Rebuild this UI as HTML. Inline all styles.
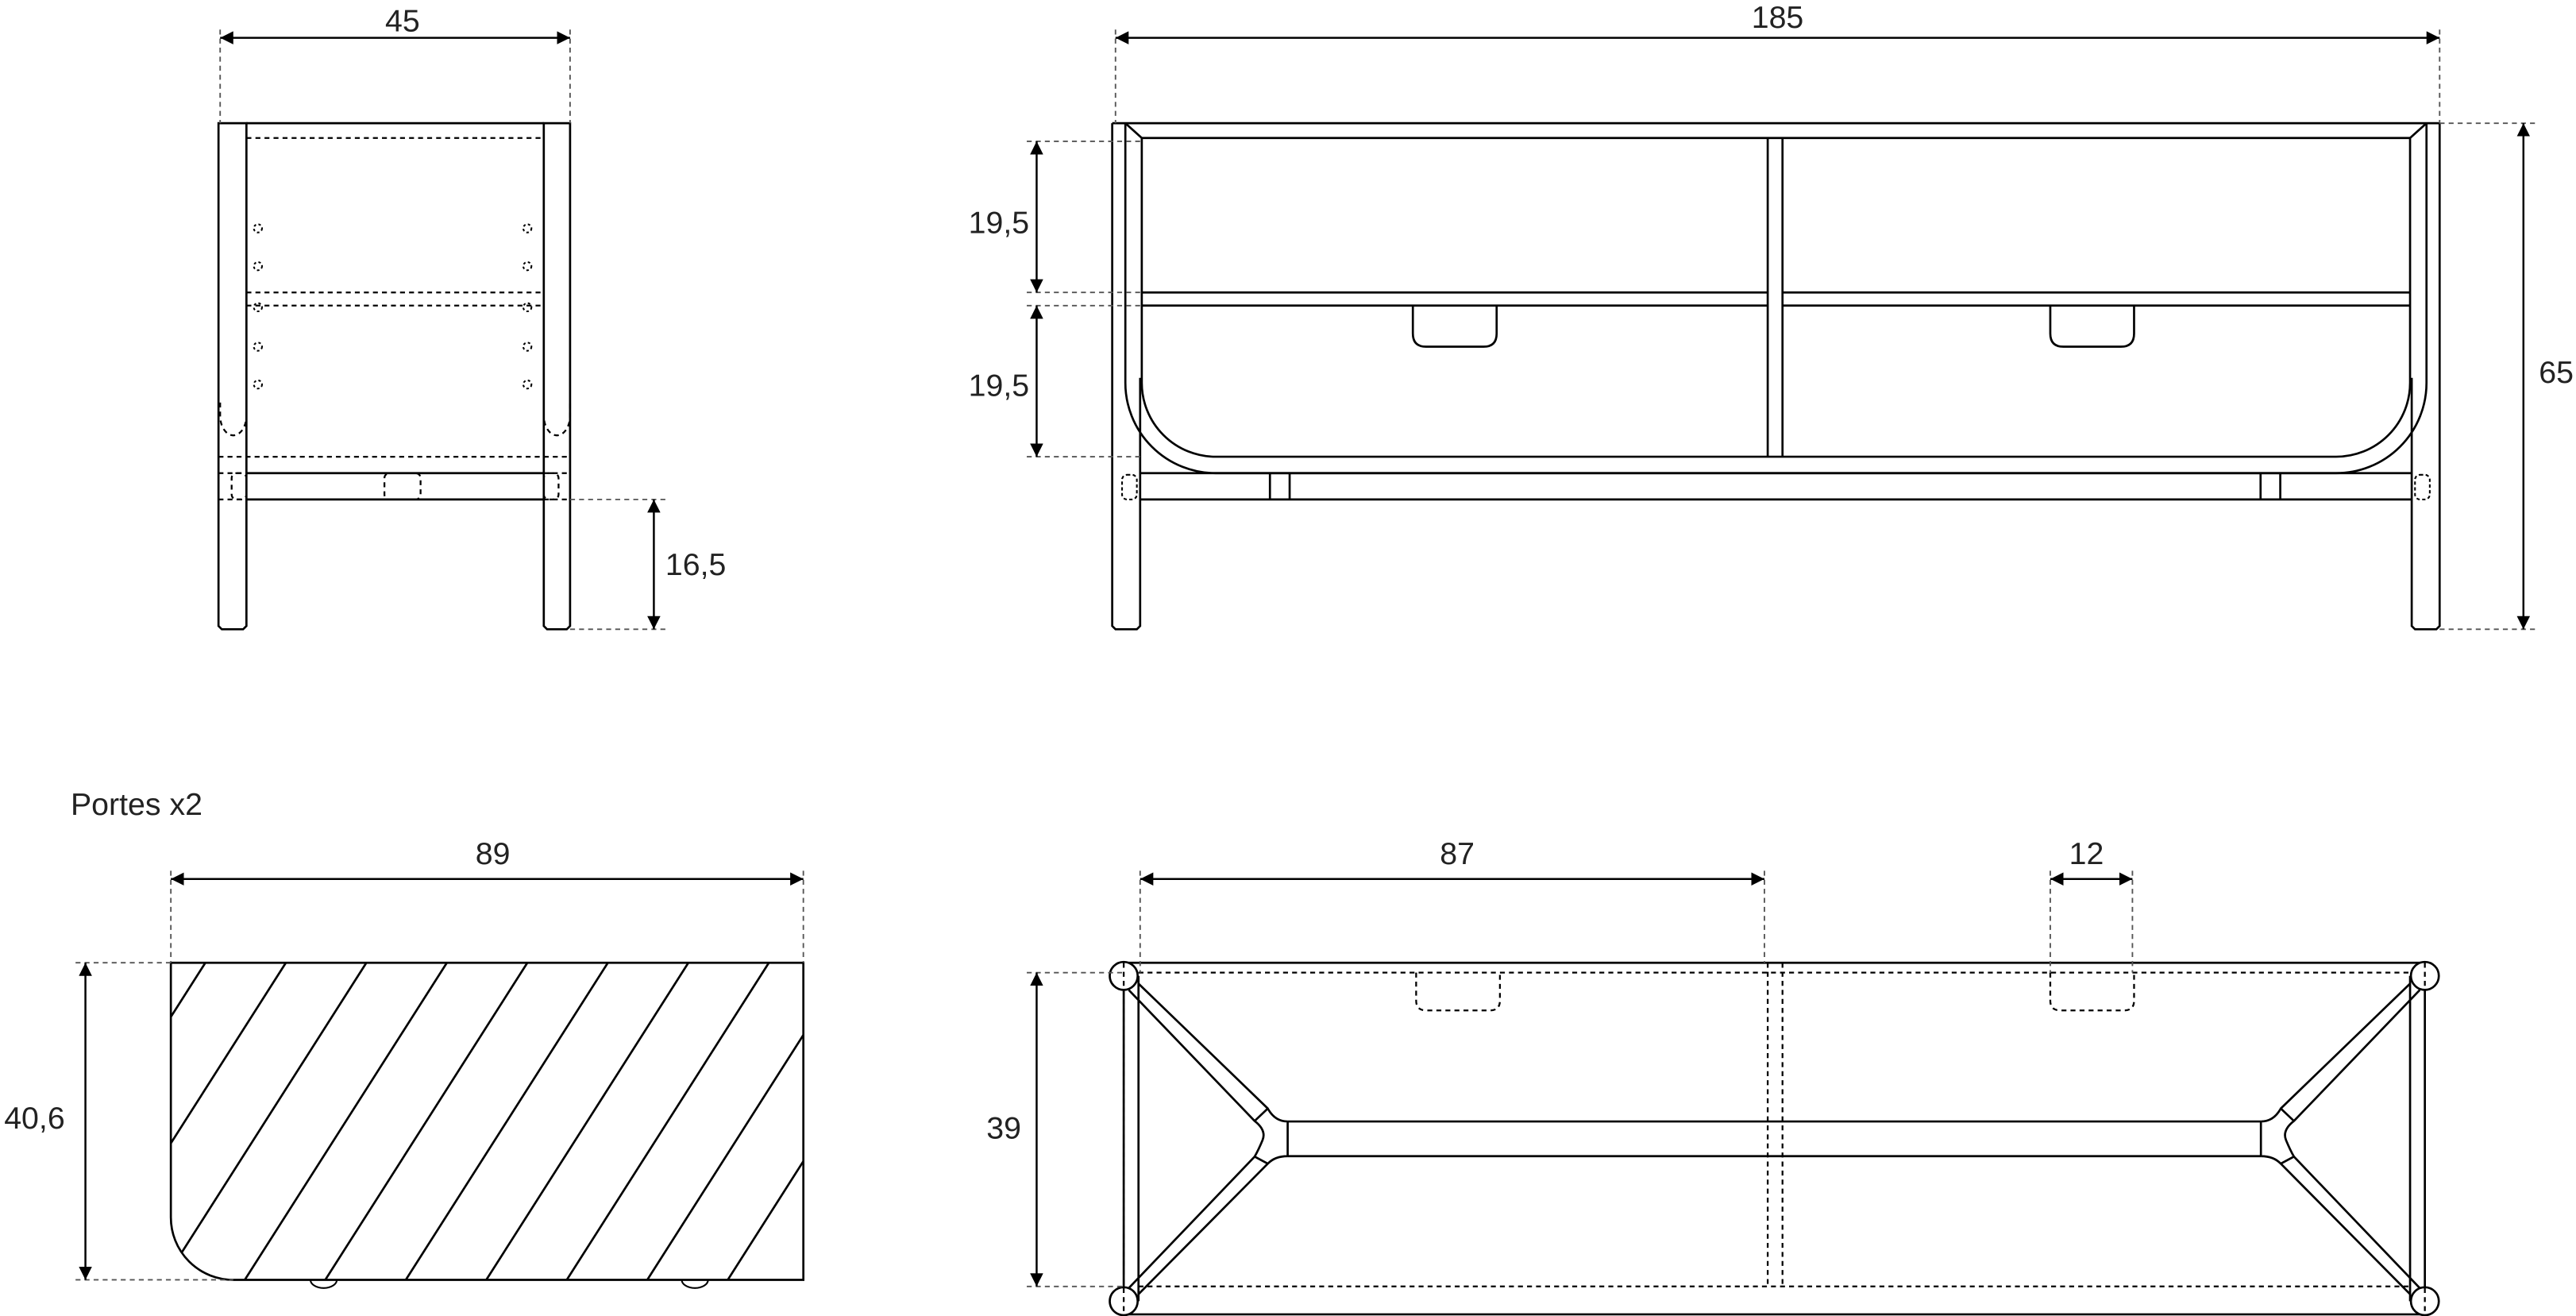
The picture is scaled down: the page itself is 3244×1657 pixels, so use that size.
<!DOCTYPE html>
<html><head><meta charset="utf-8"><style>
html,body{margin:0;padding:0;background:#fff;}
svg{display:block;}
text{font-family:"Liberation Sans",sans-serif;font-size:19px;fill:#222;}
</style></head><body>
<svg width="3244" height="1657" viewBox="0 0 1568 801" preserveAspectRatio="none" xmlns="http://www.w3.org/2000/svg">
<defs>
<marker id="a" viewBox="0 0 10 10" refX="10" refY="5" markerWidth="8" markerHeight="8" markerUnits="userSpaceOnUse" orient="auto-start-reverse"><path d="M0,0 L10,5 L0,10 z" fill="#000"/></marker>
<clipPath id="door"><path d="M104,586 H489 V779 H142 A38,38 0 0 1 104,741 Z"/></clipPath>
</defs>
<g fill="none" stroke="#000" stroke-width="1.3">
<!-- ===== SIDE VIEW ===== -->
<path d="M133,75 V381 l2,2 h13 l2,-2 V75 Z"/>
<path d="M331,75 V381 l2,2 h12 l2,-2 V75 Z"/>
<path d="M150,75 H331"/>
<path d="M150,288 H331 M150,304 H331"/>
<g stroke-dasharray="3,2.5" stroke-width="1.1">
<path d="M150,84 H331 M150,178 H331 M150,186 H331 M133,278 H347 M133,288 H150 M331,288 H347 M133,304 H150 M331,304 H347"/>
<path d="M134,245 v8 a8,12 0 0 0 16,0 v-8 M331,245 v8 a8,12 0 0 0 16,0 v-8"/>
<rect x="141" y="288" width="9" height="16" rx="3"/>
<rect x="331" y="288" width="9" height="16" rx="3"/>
<rect x="234" y="288" width="22" height="16" rx="3"/>
<g stroke-dasharray="1.5,1.5" stroke-width="1">
<circle cx="157" cy="139" r="2.5"/><circle cx="157" cy="162" r="2.5"/><circle cx="157" cy="187" r="2.5"/><circle cx="157" cy="211" r="2.5"/><circle cx="157" cy="234" r="2.5"/>
<circle cx="321" cy="139" r="2.5"/><circle cx="321" cy="162" r="2.5"/><circle cx="321" cy="187" r="2.5"/><circle cx="321" cy="211" r="2.5"/><circle cx="321" cy="234" r="2.5"/>
</g>
</g>
<g stroke="#555" stroke-dasharray="3,2.5" stroke-width="0.9">
<path d="M134,18 V75 M347,18 V75 M347,304 H405 M347,383 H405"/>
</g>
<path d="M134,23 H347" stroke-width="1.2" marker-start="url(#a)" marker-end="url(#a)"/>
<path d="M398,304 V383" stroke-width="1.2" marker-start="url(#a)" marker-end="url(#a)"/>

<!-- ===== FRONT VIEW ===== -->
<path d="M677,75 V381 l2,2 h13 l2,-2 V230"/>
<path d="M1485,75 V381 l-2,2 h-13 l-2,-2 V230"/>
<path d="M677,75 H1485"/>
<path d="M685,75 V233 A55,55 0 0 0 740,288 H1422 A55,55 0 0 0 1477,233 V75"/>
<path d="M685,75 L695,84 V233 A45,45 0 0 0 740,278 H1422 A45,45 0 0 0 1467,233 V84 L1477,75"/>
<path d="M695,84 H1467"/>
<path d="M695,178 H1076 M695,186 H1076 M1085,178 H1467 M1085,186 H1467"/>
<path d="M1076,84 V278 M1085,84 V278"/>
<path d="M694,288 H1468 M694,304 H1468"/>
<path d="M773,288 V304 M785,288 V304 M1376,288 V304 M1388,288 V304"/>
<path d="M860,186 v17 q0,8 8,8 h35 q8,0 8,-8 v-17"/>
<path d="M1248,186 v17 q0,8 8,8 h35 q8,0 8,-8 v-17"/>
<g stroke-dasharray="2,1.5" stroke-width="1">
<rect x="683" y="289" width="9" height="15" rx="3"/>
<rect x="1470" y="289" width="9" height="15" rx="3"/>
</g>
<g stroke="#555" stroke-dasharray="3,2.5" stroke-width="0.9">
<path d="M679,18 V75 M1485,18 V75"/>
<path d="M625,86 H695 M625,178 H695 M625,186 H695 M625,278 H695"/>
<path d="M1485,75 H1545 M1485,383 H1545"/>
</g>
<path d="M679,23 H1485" stroke-width="1.2" marker-start="url(#a)" marker-end="url(#a)"/>
<path d="M631,86 V178" stroke-width="1.2" marker-start="url(#a)" marker-end="url(#a)"/>
<path d="M631,186 V278" stroke-width="1.2" marker-start="url(#a)" marker-end="url(#a)"/>
<path d="M1536,75 V383" stroke-width="1.2" marker-start="url(#a)" marker-end="url(#a)"/>

<!-- ===== DOOR ===== -->
<path d="M104,586 H489 V779 H142 A38,38 0 0 1 104,741 Z"/>
<g clip-path="url(#door)">
<path d="M125,586 L2,779 M174,586 L51,779 M223,586 L100,779 M272,586 L149,779 M321,586 L198,779 M370,586 L247,779 M419,586 L296,779 M468,586 L345,779 M517,586 L394,779 M566,586 L443,779"/>
</g>
<path d="M189,779 a8,5 0 0 0 16,0 M415,779 a8,5 0 0 0 16,0" stroke-width="1"/>
<g stroke="#555" stroke-dasharray="3,2.5" stroke-width="0.9">
<path d="M104,530 V586 M489,530 V586 M46,586 H104 M46,779 H142"/>
</g>
<path d="M104,535 H489" stroke-width="1.2" marker-start="url(#a)" marker-end="url(#a)"/>
<path d="M52,586 V779" stroke-width="1.2" marker-start="url(#a)" marker-end="url(#a)"/>

<!-- ===== TOP VIEW ===== -->
<path d="M684,586 H1476 M684,800 H1476"/>
<path d="M684,594 V792 M693,594 V792 M1467,594 V792 M1476,594 V792"/>
<circle cx="684" cy="594" r="8.5" fill="#fff"/>
<circle cx="1476" cy="594" r="8.5" fill="#fff"/>
<circle cx="684" cy="792" r="8.5" fill="#fff"/>
<circle cx="1476" cy="792" r="8.5" fill="#fff"/>
<g stroke-dasharray="3,2.5" stroke-width="1.1">
<path d="M693,592 H1467 M693,783 H1467"/>
<path d="M1076,586 V783 M1085,586 V783"/>
<path d="M684,586 V800 M1476,586 V800"/>
<path d="M862,592 v17 q0,6 6,6 h39 q6,0 6,-6 v-17"/>
<path d="M1248,592 v17 q0,6 6,6 h39 q6,0 6,-6 v-17"/>
</g>
<!-- left Y brace -->
<path d="M692.8,598.5 L771.7,674.7 Q776,682.6 783.8,682.6 M687.1,602.6 L763.7,682.3 Q771,688 768.5,694 Q766,700 763.7,704 L687.1,784 M771.7,708.3 Q776,703.7 783.8,703.7 M692.8,787.9 L771.7,708.3 M763.7,682.3 L771.7,674.7 M763.7,704 L771.7,708.3 M783.8,682.6 V703.7"/>
<!-- right Y brace (mirror about 1080) -->
<g transform="translate(2160,0) scale(-1,1)">
<path d="M692.8,598.5 L771.7,674.7 Q776,682.6 783.8,682.6 M687.1,602.6 L763.7,682.3 Q771,688 768.5,694 Q766,700 763.7,704 L687.1,784 M771.7,708.3 Q776,703.7 783.8,703.7 M692.8,787.9 L771.7,708.3 M763.7,682.3 L771.7,674.7 M763.7,704 L771.7,708.3 M783.8,682.6 V703.7"/>
</g>
<path d="M783.8,682.6 H1376.2 M783.8,703.7 H1376.2"/>
<g stroke="#555" stroke-dasharray="3,2.5" stroke-width="0.9">
<path d="M694,530 V592 M1074,530 V586 M1248,530 V592 M1298,530 V592"/>
<path d="M625,592 H684 M625,783 H684"/>
</g>
<path d="M694,535 H1074" stroke-width="1.2" marker-start="url(#a)" marker-end="url(#a)"/>
<path d="M1248,535 H1298" stroke-width="1.2" marker-start="url(#a)" marker-end="url(#a)"/>
<path d="M631,592 V783" stroke-width="1.2" marker-start="url(#a)" marker-end="url(#a)"/>
</g>

<!-- labels -->
<text x="245" y="19" text-anchor="middle">45</text>
<text x="405" y="350">16,5</text>
<text x="1082" y="17" text-anchor="middle">185</text>
<text x="608" y="142" text-anchor="middle">19,5</text>
<text x="608" y="241" text-anchor="middle">19,5</text>
<text x="1556" y="233" text-anchor="middle">65</text>
<text x="43" y="496">Portes x2</text>
<text x="300" y="526" text-anchor="middle">89</text>
<text x="21" y="687" text-anchor="middle">40,6</text>
<text x="887" y="526" text-anchor="middle">87</text>
<text x="1270" y="526" text-anchor="middle">12</text>
<text x="611" y="693" text-anchor="middle">39</text>
</svg>
</body></html>
